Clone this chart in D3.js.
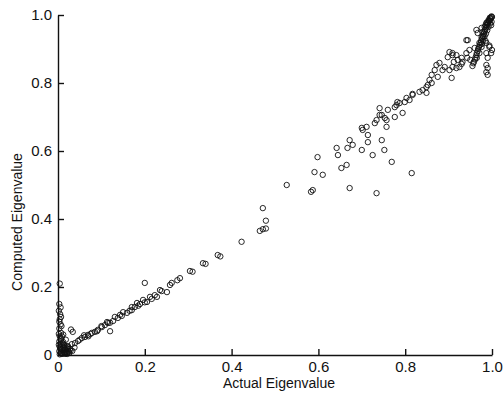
<!DOCTYPE html>
<html>
<head>
<meta charset="utf-8">
<script src="https://cdn.jsdelivr.net/npm/d3@7"></script>
<style>
  html, body { margin: 0; padding: 0; background: #fff; }
  svg { display: block; }
  text { font-family: "Liberation Sans", Arial, Helvetica, sans-serif; fill: #111; }
</style>
</head>
<body>
<script>
// Data: actual vs computed eigenvalue
const actual = [
  0.004,0.003,0.006,0.005,0.004,0.006,0.003,0.007,0.004,0.008,0.003,0.006,0.01,0.004,0.008,0.012,0.003,0.007,0.011,0.015,0.004,0.02,0.016,0.018,0.024,0.028,0.022,0.012,0.015,0.03,0.034,0.009,0.013,0.026,0.033,0.038,0.018,0.009,
  0.002,0.005,0.009,0.013,0.017,0.021,0.025,0.029,0.002,0.006,0.01,0.014,0.019,0.023,0.003,0.008,0.012,0.016,0.002,0.007,
  0.016,0.023,0.032,0.039,0.046,0.055,0.062,0.069,0.078,0.085,0.092,0.101,0.108,0.115,0.127,0.138,0.147,0.159,0.17,0.177,0.189,0.196,0.205,0.216,0.228,0.235,0.251,0.262,0.06,0.07,0.09,0.1,0.12,0.131,0.15,0.165,0.182,0.185,0.2,0.212,0.223,0.239,0.12,0.2,0.05,0.075,0.113,0.143,0.17,
  0.258,0.275,0.281,0.304,0.31,0.334,0.34,0.368,0.374,0.423,0.465,0.472,0.479,0.479,0.472,0.527,0.587,0.583,
  0.591,0.61,0.598,0.642,0.645,0.653,0.665,0.672,0.667,0.679,0.7,0.725,0.752,0.672,0.734,0.769,0.815,0.702,0.714,0.714,0.746,0.734,0.746,0.757,0.757,0.776,0.794,0.78,0.782,0.799,0.803,0.817,0.833,0.84,0.849,0.852,0.861,0.7,0.711,0.73,0.741,0.753,0.741,0.76,0.776,0.787,0.81,0.817,0.849,0.856,
  0.861,0.868,0.872,0.879,0.886,0.875,0.898,0.909,0.918,0.921,0.912,0.93,0.932,0.918,0.909,0.941,0.948,0.941,0.96,0.971,0.976,0.978,0.983,0.987,0.994,1.0,0.987,0.994,1.0,0.987,0.99,0.998,0.987,0.99,0.987,0.99,0.967,0.964,0.976,0.944,0.98,0.985,0.994,0.976,0.971,0.965,0.95,0.943,0.93,0.925,
  0.955,0.958,0.962,0.965,0.968,0.972,0.975,0.979,0.982,0.985,0.988,0.991,0.994,0.997,0.999,0.996,0.992,0.989,0.986,0.983,0.98,0.977,0.998,0.999,
  0.957,0.961,0.964,0.967,0.97,0.974,0.977,0.981,0.984,0.987,0.99,0.993,0.996,0.998,0.995,0.992,0.988,0.985,
  0.902,0.909,0.891,0.902,0.907
];
const computed = [
  0.21,0.15,0.14,0.12,0.105,0.09,0.078,0.065,0.055,0.048,0.04,0.033,0.028,0.024,0.018,0.014,0.011,0.007,0.006,0.004,0.002,0.008,0.016,0.01,0.012,0.018,0.024,0.038,0.028,0.075,0.068,0.003,0.022,0.006,0.012,0.022,0.045,0.055,
  0.03,0.02,0.015,0.009,0.004,0.003,0.009,0.013,0.062,0.045,0.035,0.03,0.022,0.018,0.098,0.085,0.06,0.008,0.13,0.112,
  0.02,0.026,0.032,0.035,0.041,0.05,0.053,0.059,0.065,0.068,0.074,0.082,0.088,0.094,0.1,0.109,0.115,0.124,0.132,0.141,0.15,0.162,0.156,0.165,0.171,0.191,0.185,0.212,0.058,0.055,0.07,0.085,0.095,0.112,0.126,0.13,0.153,0.145,0.155,0.171,0.176,0.188,0.07,0.212,0.045,0.062,0.097,0.118,0.141,
  0.206,0.22,0.226,0.247,0.245,0.27,0.268,0.294,0.29,0.333,0.365,0.37,0.372,0.395,0.432,0.5,0.485,0.48,
  0.538,0.53,0.582,0.609,0.588,0.55,0.559,0.632,0.609,0.618,0.603,0.588,0.603,0.491,0.476,0.568,0.535,0.662,0.647,0.626,0.632,0.691,0.706,0.691,0.671,0.7,0.712,0.735,0.744,0.744,0.756,0.768,0.774,0.779,0.771,0.794,0.8,0.668,0.671,0.682,0.706,0.697,0.726,0.721,0.729,0.741,0.75,0.765,0.788,0.809,
  0.824,0.838,0.853,0.859,0.838,0.818,0.876,0.888,0.882,0.868,0.862,0.874,0.862,0.844,0.847,0.888,0.897,0.926,0.903,0.918,0.935,0.95,0.965,0.976,0.985,0.994,0.918,0.906,0.897,0.888,0.874,0.888,0.853,0.844,0.832,0.824,0.947,0.956,0.962,0.926,0.935,0.924,0.91,0.906,0.888,0.874,0.868,0.874,0.856,0.847,
  0.85,0.862,0.875,0.888,0.9,0.912,0.925,0.938,0.95,0.96,0.97,0.978,0.982,0.99,0.996,0.975,0.965,0.955,0.945,0.938,0.925,0.915,0.97,0.98,
  0.858,0.869,0.882,0.894,0.906,0.918,0.931,0.944,0.955,0.965,0.974,0.982,0.988,0.993,0.992,0.985,0.978,0.97,
  0.891,0.882,0.847,0.838,0.815
];
const tickValues = [0, 0.2, 0.4, 0.6, 0.8, 1.0];
const tickLabels = ["0", "0.2", "0.4", "0.6", "0.8", "1.0"];
const xTitle = "Actual Eigenvalue";
const yTitle = "Computed Eigenvalue";

const W = 504, H = 393;
const svg = d3.select("body").append("svg").attr("width", W).attr("height", H);

const x = d3.scaleLinear().domain([0, 1]).range([58, 492]);
const y = d3.scaleLinear().domain([0, 1]).range([355, 15]);

const fmt = (d) => tickLabels[tickValues.indexOf(d)];

const xAxis = d3.axisBottom(x).tickValues(tickValues).tickFormat(fmt)
  .tickSizeInner(-6).tickSizeOuter(0).tickPadding(6);
const yAxis = d3.axisLeft(y).tickValues(tickValues).tickFormat(fmt)
  .tickSizeInner(-6).tickSizeOuter(0).tickPadding(6);

const gx = svg.append("g").attr("transform", `translate(0,${y(0)})`).call(xAxis);
const gy = svg.append("g").attr("transform", `translate(${x(0)},0)`).call(yAxis);

[gx, gy].forEach(g => {
  g.select(".domain").attr("stroke", "#111").attr("stroke-width", 1.4);
  g.selectAll(".tick line").attr("stroke", "#111").attr("stroke-width", 1.4);
  g.selectAll(".tick text").style("font-family", '"Liberation Sans", Arial, sans-serif')
    .style("font-size", "15px").attr("fill", "#111");
});

// Points
const pts = actual.map((a, i) => [a, computed[i]]);
svg.append("g").selectAll("circle").data(pts).join("circle")
  .attr("cx", d => x(d[0])).attr("cy", d => y(d[1])).attr("r", 2.7)
  .attr("fill", "none").attr("stroke", "#111").attr("stroke-width", 0.9);

// Titles
svg.append("text").attr("x", 279).attr("y", 388).attr("text-anchor", "middle")
  .style("font-size", "14px").text(xTitle);
svg.append("text").attr("transform", "translate(22,222) rotate(-90)")
  .attr("text-anchor", "middle").style("font-size", "14px").text(yTitle);
</script>
</body>
</html>
